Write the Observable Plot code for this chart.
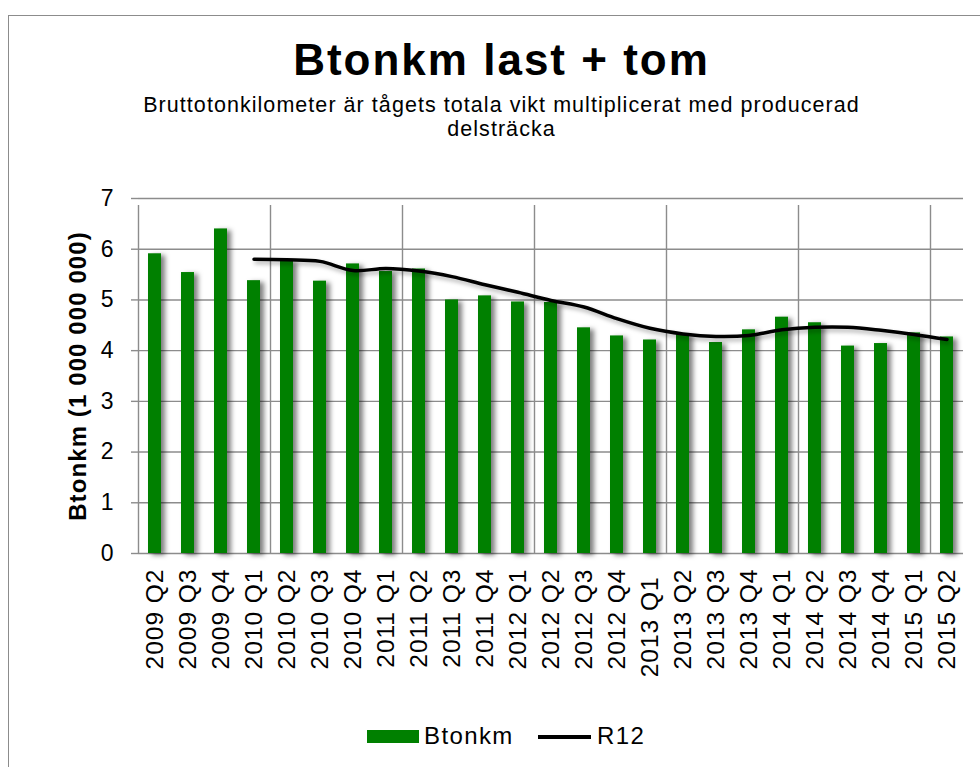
<!DOCTYPE html>
<html>
<head>
<meta charset="utf-8">
<script src="https://cdn.jsdelivr.net/npm/d3@7"></script>
<script src="https://cdn.jsdelivr.net/npm/@observablehq/plot@0.6"></script>
<style>
  html, body { margin: 0; padding: 0; background: #fff; }
  #wrap { position: relative; width: 980px; height: 767px; overflow: hidden; background: #fff;
          font-family: "Liberation Sans", Arial, Helvetica, sans-serif; color: #000; }
  #frame { position: absolute; left: 8px; top: 15px; width: 1100px; height: 900px;
           border: 1.5px solid #8c8c8c; box-sizing: border-box; }
  #title { position: absolute; left: 0; width: 1003px; top: 36px; text-align: center;
           font-weight: bold; font-size: 44px; letter-spacing: 2px; line-height: 48px; white-space: nowrap; }
  #subtitle { position: absolute; left: 0; width: 1003px; top: 93px; text-align: center;
              font-size: 21.5px; letter-spacing: 1.05px; line-height: 24px; white-space: nowrap; }
  #chart { position: absolute; left: 0; top: 170px; }
  #legend { position: absolute; top: 722px; left: 0; width: 980px; height: 30px; }
  .lg { position: absolute; font-size: 24px; letter-spacing: 1.4px; line-height: 28px; white-space: nowrap; }
  #chart svg text { font-family: "Liberation Sans", Arial, Helvetica, sans-serif; }
  #chart g[aria-label="bar"] { filter: drop-shadow(4px 2px 2.5px rgba(0,0,0,0.5)); }
  #chart g[aria-label="line"] { filter: drop-shadow(2px 3px 2px rgba(0,0,0,0.3)); }
  #chart g[aria-label="x-axis tick label"] text { letter-spacing: 1px; }
  #chart g.ylab text { letter-spacing: 1.1px; }
</style>
</head>
<body>
<div id="wrap">
  <div id="frame"></div>
  <div id="title">Btonkm last + tom</div>
  <div id="subtitle">Bruttotonkilometer är tågets totala vikt multiplicerat med producerad<br>delsträcka</div>
  <div id="chart"></div>
  <div id="legend"></div>
</div>
<script>
// ---- data ----
const quarters = ["2009 Q2","2009 Q3","2009 Q4","2010 Q1","2010 Q2","2010 Q3","2010 Q4","2011 Q1",
  "2011 Q2","2011 Q3","2011 Q4","2012 Q1","2012 Q2","2012 Q3","2012 Q4","2013 Q1",
  "2013 Q2","2013 Q3","2013 Q4","2014 Q1","2014 Q2","2014 Q3","2014 Q4","2015 Q1","2015 Q2"];
const tickLabels = ["2009 Q2","2009 Q3","2009 Q4","2010 Q1","2010 Q2","2010 Q3","2010 Q4","2011 Q1",
  "2011 Q2","2011 Q3","2011 Q4","2012 Q1","2012 Q2","2012 Q3","2012 Q4","2013 Q1\u00a0",
  "2013 Q2","2013 Q3","2013 Q4","2014 Q1","2014 Q2","2014 Q3","2014 Q4","2015 Q1","2015 Q2"];
const btonkm = [5.91, 5.54, 6.40, 5.38, 5.77, 5.37, 5.71, 5.56, 5.61, 5.00, 5.08, 4.96, 4.95,
  4.45, 4.29, 4.21, 4.33, 4.16, 4.41, 4.66, 4.55, 4.09, 4.14, 4.35, 4.27];
const r12 = [null, null, null, 5.80, 5.79, 5.76, 5.58, 5.62, 5.57, 5.46, 5.30, 5.15, 4.99,
  4.86, 4.63, 4.44, 4.33, 4.28, 4.30, 4.41, 4.46, 4.46, 4.40, 4.32, 4.22];
const yTicks = [0, 1, 2, 3, 4, 5, 6, 7];
const gridQuarters = ["2009 Q2","2010 Q2","2011 Q2","2012 Q2","2013 Q2","2014 Q2","2015 Q2"];
const seriesNames = ["Btonkm", "R12"];
const yTitle = "Btonkm (1 000 000 000)";

// ---- tables ----
const barData = quarters.map((q, i) => ({q, v: btonkm[i]}));
const lineData = quarters.map((q, i) => ({q, v: r12[i]})).filter(d => d.v != null);

const W = 980, H = 550, ML = 138, MR = 17, MT = 28, MB = 167;
const step = (W - ML - MR) / quarters.length;
const grid = "#8c8c8c";

const chart = Plot.plot({
  width: W, height: H,
  marginLeft: ML, marginRight: MR, marginTop: MT, marginBottom: MB,
  style: {fontFamily: "Liberation Sans, Arial, sans-serif", background: "transparent", overflow: "visible"},
  x: {domain: quarters, paddingInner: 0.6, paddingOuter: 0.3, axis: null},
  y: {domain: [0, 7], axis: null},
  marks: [
    Plot.ruleY(yTicks, {stroke: grid, strokeWidth: 1.4}),
    Plot.ruleX(gridQuarters, {x: d => d, y1: 0, y2: 7, dx: -step / 2, insetBottom: -7, stroke: grid, strokeWidth: 1.4}),
    Plot.barY(barData, {x: "q", y: "v", fill: "#008000"}),
    Plot.line(lineData, {x: "q", y: "v", stroke: "#000", strokeWidth: 3.5, curve: "catmull-rom"}),
    Plot.axisY({ticks: yTicks, tickSize: 7, tickPadding: 18, stroke: grid, strokeWidth: 1.4,
      fill: "#000", fontSize: 23, label: null, tickFormat: d => String(d)}),
    Plot.axisX({tickSize: 0, tickPadding: 15, tickRotate: -90, fill: "#000", fontSize: 24.5,
      label: null, tickFormat: d => tickLabels[quarters.indexOf(d)]}),
    Plot.text([yTitle], {frameAnchor: "left", textAnchor: "middle", lineAnchor: "middle", rotate: -90, dx: -60,
      fontWeight: "bold", fontSize: 24, fill: "#000", className: "ylab"})
  ]
});
document.getElementById("chart").appendChild(chart);

// ---- legend ----
const legend = document.getElementById("legend");
legend.innerHTML =
  `<div style="position:absolute;left:367px;top:8px;width:52px;height:13px;background:#008000"></div>
   <div class="lg" style="left:424px;top:0px">${seriesNames[0]}</div>
   <div style="position:absolute;left:538px;top:13px;width:53px;height:3.5px;background:#000"></div>
   <div class="lg" style="left:597px;top:0px">${seriesNames[1]}</div>`;
</script>
</body>
</html>
